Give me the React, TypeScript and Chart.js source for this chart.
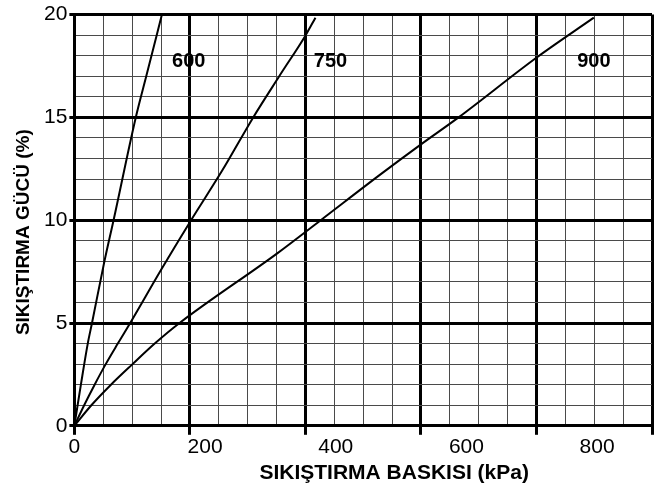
import React, { useEffect, useRef } from 'react';
import { Chart, registerables } from 'chart.js';

Chart.register(...registerables);

// ---- data ----
const curveNames = ['600', '750', '900'];
const x600 = [0, 10, 20.5, 27, 46, 60, 94, 110, 126, 134];
const y600 = [0, 2, 4, 5, 8, 10, 15, 17, 19, 20];
const x750 = [0, 15, 31, 48, 66.5, 85.5, 133, 178.6, 226, 273.7, 313.5, 354, 369];
const y750 = [0, 1, 2, 3, 4, 5, 7.6, 10, 12.4, 15, 17, 19, 19.85];
const x900 = [0, 26, 56, 89, 123, 161, 311, 377, 469, 531, 588, 707, 795];
const y900 = [0, 1, 2, 3, 4, 5, 8.4, 10, 12.24, 13.7, 15, 17.9, 19.85];
const xTickLabels = [0, 200, 400, 600, 800];
const yTickLabels = [0, 5, 10, 15, 20];
const xTitle = 'SIKIŞTIRMA BASKISI (kPa)';
const yTitle = 'SIKIŞTIRMA GÜCÜ (%)';
const xMax = 884;
const yMax = 20;
// curve label anchors (data units)
const curveLabelX = [175, 392, 795];
const curveLabelY = 17.7;

const FAMILY = '"Liberation Sans", Arial, Helvetica, sans-serif';

const textPlugin = {
  id: 'chartTexts',
  afterDatasetsDraw(chart: any) {
    const { ctx, scales, chartArea } = chart;
    const xs = scales.x;
    const ys = scales.y;
    ctx.save();
    ctx.fillStyle = '#000';
    ctx.textAlign = 'center';
    ctx.textBaseline = 'middle';
    // curve labels
    ctx.font = `bold 20px ${FAMILY}`;
    chart.data.datasets.forEach((ds: any, i: number) => {
      ctx.fillText(ds.label, xs.getPixelForValue(curveLabelX[i]), ys.getPixelForValue(curveLabelY));
    });
    // x axis title
    ctx.font = `bold 21px ${FAMILY}`;
    ctx.fillText(xTitle, (chartArea.left + chartArea.right) / 2 + 31, chartArea.bottom + 47);
    // y axis title
    ctx.font = `bold 19px ${FAMILY}`;
    ctx.translate(24, (chartArea.top + chartArea.bottom) / 2 + 12);
    ctx.rotate(-Math.PI / 2);
    ctx.fillText(yTitle, 0, 0);
    ctx.restore();
  },
};

export default function App() {
  const ref = useRef<HTMLCanvasElement | null>(null);

  useEffect(() => {
    if (!ref.current) return;
    const toPts = (xs: number[], ys: number[]) => xs.map((x, i) => ({ x, y: ys[i] }));
    const series = [toPts(x600, y600), toPts(x750, y750), toPts(x900, y900)];
    const xMinorCount = 20;
    const xMajorEvery = 4;
    const yMajorEvery = 5;
    const minorColor = '#4a4a4a';

    const chart = new Chart(ref.current, {
      type: 'scatter',
      data: {
        datasets: series.map((d, i) => ({
          label: curveNames[i],
          data: d,
          showLine: true,
          borderColor: '#000',
          borderWidth: 2,
          pointRadius: 0,
          cubicInterpolationMode: 'monotone' as const,
          xAxisID: 'x',
          yAxisID: 'y',
        })),
      },
      options: {
        animation: false,
        responsive: true,
        maintainAspectRatio: false,
        layout: { padding: { left: 42, right: 16, top: 10, bottom: 29 } },
        plugins: { legend: { display: false }, tooltip: { enabled: false } },
        scales: {
          x: {
            type: 'linear',
            min: 0,
            max: xMax,
            position: 'bottom',
            weight: 0,
            afterBuildTicks: (s: any) => {
              s.ticks = Array.from({ length: xMinorCount + 1 }, (_, i) => ({ value: (i * xMax) / xMinorCount }));
            },
            ticks: { display: false },
            grid: {
              color: (c: any) => (c.index % xMajorEvery === 0 ? '#000' : minorColor),
              lineWidth: (c: any) => (c.index % xMajorEvery === 0 ? 3 : 1),
              tickColor: (c: any) => (c.index % xMajorEvery === 0 ? '#000' : 'rgba(0,0,0,0)'),
              tickLength: 9,
            },
            border: { display: true, color: '#000', width: 3 },
          },
          x2: {
            type: 'linear',
            min: 0,
            max: xMax,
            position: 'bottom',
            weight: 1,
            afterBuildTicks: (s: any) => {
              s.ticks = xTickLabels.map((v) => ({ value: v }));
            },
            ticks: {
              autoSkip: false,
              maxRotation: 0,
              padding: 0,
              color: '#000',
              font: { family: FAMILY, size: 21 },
              callback: (v: any) => String(v),
            },
            grid: { display: false, drawTicks: false },
            border: { display: false },
          },
          y: {
            type: 'linear',
            min: 0,
            max: yMax,
            afterBuildTicks: (s: any) => {
              s.ticks = Array.from({ length: yMax + 1 }, (_, i) => ({ value: i }));
            },
            ticks: {
              autoSkip: false,
              padding: 2,
              color: '#000',
              font: { family: FAMILY, size: 21 },
              callback: (v: any) => (yTickLabels.includes(Number(v)) ? String(v) : ''),
            },
            grid: {
              color: (c: any) => (c.index % yMajorEvery === 0 ? '#000' : minorColor),
              lineWidth: (c: any) => (c.index % yMajorEvery === 0 ? 3 : 1),
              tickColor: (c: any) => (c.index % yMajorEvery === 0 ? '#000' : 'rgba(0,0,0,0)'),
              tickLength: 5,
            },
            border: { display: true, color: '#000', width: 3 },
          },
        },
      } as any,
      plugins: [textPlugin],
    });
    return () => chart.destroy();
  }, []);

  return (
    <div style={{ position: 'absolute', left: 0, top: 0, width: 668, height: 489, background: '#fff' }}>
      <canvas ref={ref} />
    </div>
  );
}
